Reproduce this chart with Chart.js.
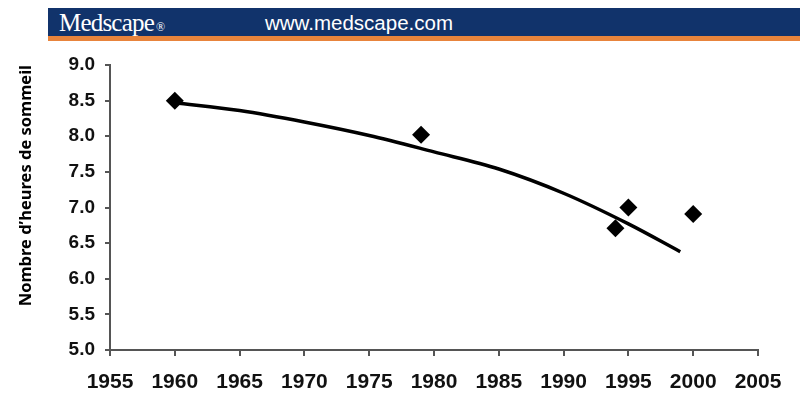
<!DOCTYPE html>
<html>
<head>
<meta charset="utf-8">
<script src="https://cdn.jsdelivr.net/npm/chart.js@4"></script>
<style>
  body { margin: 0; background: #fff; }
  #wrap { position: relative; width: 800px; height: 398px; }
  #banner { position: absolute; left: 48px; top: 8px; width: 752px; height: 28px;
            background: #11336b; border-bottom: 5px solid #e8843c; }
  #logo { position: absolute; left: 11px; top: 1px; color: #fff;
          font-family: "Liberation Serif", serif; font-size: 25px; letter-spacing: -0.8px; }
  #logo small { font-size: 12px; margin-left: 2px; }
  #url { position: absolute; left: 217px; top: 3px; color: #fff;
         font-family: "Liberation Sans", Arial, sans-serif; font-size: 20.5px; }
  canvas { position: absolute; left: 0; top: 0; }
</style>
</head>
<body>
<div id="wrap">
  <canvas id="myChart" width="800" height="398"></canvas>
  <div id="banner"><span id="logo">Medscape<small>®</small></span><span id="url">www.medscape.com</span></div>
</div>
<script>
var years = [1960, 1979, 1994, 1995, 2000];
var hours = [8.5, 8.02, 6.71, 7.0, 6.91];
var trendYears = [1960, 1965, 1970, 1975, 1980, 1985, 1990, 1995, 1999];
var trendHours = [8.47, 8.36, 8.20, 8.01, 7.78, 7.54, 7.20, 6.77, 6.38];
var yTitle = "Nombre d’heures de sommeil";

var points = years.map(function (y, i) { return { x: y, y: hours[i] }; });
var trend = trendYears.map(function (y, i) { return { x: y, y: trendHours[i] }; });
var axisColor = "#555";

new Chart("myChart", {
    type: "scatter",
    data: {
        datasets: [{
            data: trend,
            showLine: true,
            borderColor: "#000",
            borderWidth: 3.5,
            pointRadius: 0,
            tension: 0.4,
            cubicInterpolationMode: "monotone",
            fill: false
        }, {
            data: points,
            pointStyle: "rectRot",
            pointRadius: 9,
            backgroundColor: "#000",
            borderColor: "#000",
            borderWidth: 0
        }]
    },
    options: {
        responsive: false,
        animation: false,
        events: [],
        layout: { padding: { top: 65, right: 42, left: 0, bottom: 0 } },
        plugins: { legend: { display: false }, tooltip: { enabled: false } },
        scales: {
            x: {
                type: "linear",
                min: 1955, max: 2005,
                afterBuildTicks: function (s) {
                    s.ticks = [];
                    for (var v = 1955; v <= 2005; v += 5) s.ticks.push({ value: v });
                },
                grid: { display: true, drawOnChartArea: false, drawTicks: true, tickLength: 6, color: axisColor, lineWidth: 2 },
                border: { color: axisColor, width: 2 },
                ticks: {
                    color: "#111", padding: 14,
                    font: { family: "'Liberation Sans Narrow', 'Liberation Sans', Arial", size: 21, weight: "bold" },
                    callback: function (v) { return String(v); }
                },
                afterFit: function (s) { s.height = 48; }
            },
            y: {
                min: 5, max: 9,
                ticks: {
                    stepSize: 0.5, color: "#111", padding: 10,
                    font: { family: "'Liberation Sans', Arial", size: 19, weight: "bold" },
                    callback: function (v) { return v.toFixed(1); }
                },
                grid: { display: true, drawOnChartArea: false, drawTicks: true, tickLength: 5, color: axisColor, lineWidth: 2 },
                border: { color: axisColor, width: 2 },
                title: {
                    display: true, text: yTitle, color: "#000", align: "end",
                    font: { family: "'Noto Sans', 'Open Sans', sans-serif", size: 16.5, weight: "bold" },
                    padding: { top: 16, bottom: 0 }
                },
                afterFit: function (s) { s.width = 110; }
            }
        }
    }
});
</script>
</body>
</html>
